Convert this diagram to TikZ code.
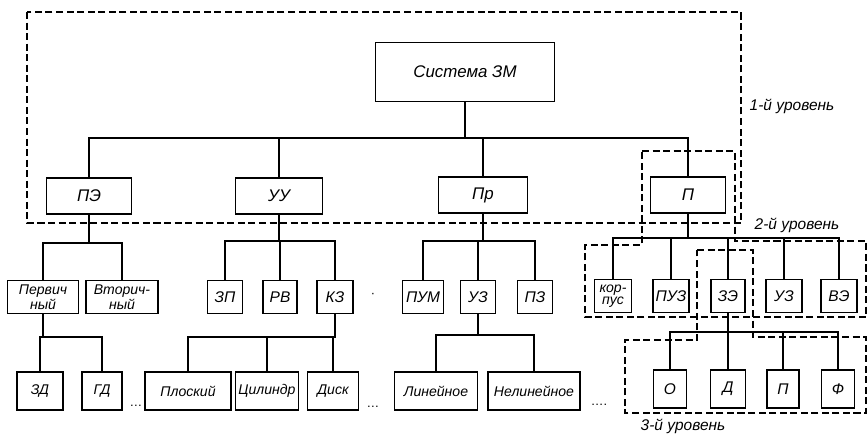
\documentclass[tikz,border=0pt]{standalone}
\usepackage{fontspec}
\setmainfont{Liberation Sans}
\tikzset{
    box/.style={
        draw,
        line width=1.2pt,
        inner sep=1pt,
        minimum height=0.9cm,
        align=center,
        font=\itshape\fontsize{12}{12}\selectfont
    },
    smallbox/.style={
        draw,
        line width=1.2pt,
        inner sep=1pt,
        minimum height=0.82cm,
        align=center,
        font=\itshape\fontsize{11}{11}\selectfont
    },
    twoline/.style={smallbox, font=\itshape\fontsize{10}{8.5}\selectfont},
    leafbox/.style={
        draw,
        line width=1.2pt,
        inner sep=1pt,
        minimum height=0.95cm,
        align=center,
        font=\itshape\fontsize{10}{10}\selectfont
    },
    line/.style={line width=1pt},
    levelline/.style={line width=0.9pt, dash pattern=on 5pt off 2.5pt},
    note/.style={font=\itshape\fontsize{11}{11}\selectfont}
}

\begin{document}
\begin{tikzpicture}[x=0.025cm, y=-0.025cm]
\useasboundingbox (0,0) rectangle (868,434);

% top
\node[box, minimum width=4.47cm, minimum height=1.47cm, font=\itshape\fontsize{12}{12}\selectfont] (sys) at (465,72) {Система ЗМ};

% 1st row
\node[box, minimum width=2.12cm] (pe) at (89,196) {ПЭ};
\node[box, minimum width=2.17cm] (uu) at (279,196) {УУ};
\node[box, minimum width=2.22cm] (pr) at (483,195) {Пр};
\node[box, minimum width=1.87cm] (p) at (688,195) {П};

% 2nd row
\node[twoline, minimum width=1.77cm] (perv) at (43,297) {Первич\\ный};
\node[twoline, minimum width=1.8cm] (vtor) at (122,297) {Вторич-\\ный};
\node[smallbox, minimum width=0.88cm] (zp) at (225,297) {ЗП};
\node[smallbox, minimum width=0.85cm] (rv) at (280,297) {РВ};
\node[smallbox, minimum width=0.9cm] (kz) at (335,297) {КЗ};
\node[smallbox, minimum width=1.02cm] (pum) at (423,297) {ПУМ};
\node[smallbox, minimum width=0.88cm] (uz) at (478,297) {УЗ};
\node[smallbox, minimum width=0.88cm] (pz) at (535,297) {ПЗ};
\node[twoline, minimum width=0.93cm] (korp) at (613,296) {кор-\\пус};
\node[smallbox, minimum width=0.9cm] (puz) at (671,296) {ПУЗ};
\node[smallbox, minimum width=0.86cm] (ze) at (728,296) {ЗЭ};
\node[smallbox, minimum width=0.9cm] (uzp) at (784,296) {УЗ};
\node[smallbox, minimum width=0.9cm] (ve) at (839,296) {ВЭ};
\node[font=\small] (dotkz) at (373,295) {·};

% 3rd row
\node[leafbox, minimum width=1.15cm] (zd) at (40,391) {ЗД};
\node[leafbox, minimum width=1.0cm] (gd) at (102,391) {ГД};
\node[leafbox, minimum width=2.15cm] (plos) at (188,391) {Плоский};
\node[leafbox, minimum width=1.58cm] (cil) at (267,391) {Цилиндр};
\node[leafbox, minimum width=1.28cm] (disk) at (333,391) {Диск};
\node[leafbox, minimum width=2.07cm] (lin) at (436,391) {Линейное};
\node[leafbox, minimum width=2.3cm] (nelin) at (534,391) {Нелинейное};
\node[leafbox, minimum width=0.83cm, font=\itshape\fontsize{11}{11}\selectfont] (o) at (670,389) {О};
\node[leafbox, minimum width=0.88cm, font=\itshape\fontsize{11}{11}\selectfont] (d) at (728,389) {Д};
\node[leafbox, minimum width=0.8cm, font=\itshape\fontsize{11}{11}\selectfont] (pp) at (783,389) {П};
\node[leafbox, minimum width=0.83cm, font=\itshape\fontsize{11}{11}\selectfont] (f) at (838,389) {Ф};

\node[font=\small] (dots1) at (136,406) {\dots};
\node[font=\small] (dots2) at (373,407) {\dots};
\node[font=\small] (dots3) at (599,405) {\dots.};

% buses
\coordinate (bus0) at (0,138);
\coordinate (bus1) at (0,243);
\coordinate (bus2) at (0,241);
\coordinate (bus3) at (0,238);
\coordinate (bus4) at (0,337);
\coordinate (bus5) at (0,335);
\coordinate (bus6) at (0,332);

\foreach \c in {pe,uu,pr,p}
    \draw[line] (sys.south) -- (sys.south |- bus0) -| (\c.north);
\foreach \c in {perv,vtor}
    \draw[line] (pe.south) -- (pe.south |- bus1) -| (\c.north);
\foreach \c in {zp,rv,kz}
    \draw[line] (uu.south) -- (uu.south |- bus2) -| (\c.north);
\foreach \c in {pum,uz,pz}
    \draw[line] (pr.south) -- (pr.south |- bus2) -| (\c.north);
\foreach \c in {korp,puz,ze,uzp,ve}
    \draw[line] (p.south) -- (p.south |- bus3) -| (\c.north);
\foreach \c in {zd,gd}
    \draw[line] (perv.south) -- (perv.south |- bus4) -| (\c.north);
\foreach \c in {plos,cil,disk}
    \draw[line] (kz.south) -- (kz.south |- bus4) -| (\c.north);
\foreach \c in {lin,nelin}
    \draw[line] (uz.south) -- (uz.south |- bus5) -| (\c.north);
\foreach \c in {o,d,pp,f}
    \draw[line] (ze.south) -- (ze.south |- bus6) -| (\c.north);

% levels
\draw[levelline] (27,12) rectangle (741,223);
\draw[levelline] (642,151) -- (735,151) -- (735,241) -- (866,241) -- (866,317)
    -- (585,317) -- (585,245) -- (642,245) -- cycle;
\draw[levelline] (697,250) -- (753,250) -- (753,337) -- (866,337) -- (866,413)
    -- (625,413) -- (625,340) -- (697,340) -- cycle;

\node[note] (lev1) at (792,106) {1-й уровень};
\node[note] (lev2) at (797,225) {2-й уровень};
\node[note] (lev3) at (683,426) {3-й уровень};

\end{tikzpicture}
\end{document}
